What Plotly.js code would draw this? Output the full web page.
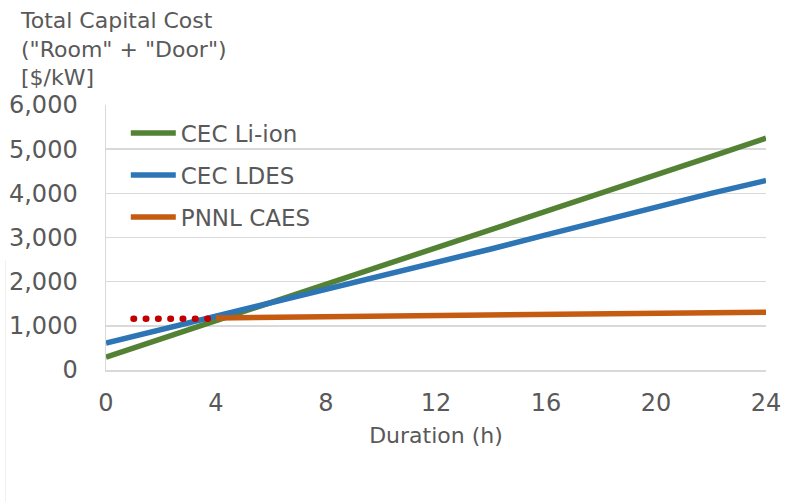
<!DOCTYPE html>
<html>
<head>
<meta charset="utf-8">
<script src="https://cdn.plot.ly/plotly-3.0.1.min.js"></script>
<style>
html,body{margin:0;padding:0;background:#fff;}
#chart{width:785px;height:502px;}
.scatterlayer .trace:last-child .js-line{stroke-linecap:round !important;}
</style>
</head>
<body>
<div id="chart"></div>
<script>
// Duration in hours
var durations = [0, 2, 4, 6, 8, 10, 12, 14, 16, 18, 20, 22, 24];
var liIon = [290, 700, 1120, 1530, 1940, 2350, 2770, 3180, 3590, 4000, 4410, 4830, 5250];
var ldes = [610, 910, 1210, 1530, 1840, 2140, 2440, 2740, 3060, 3380, 3680, 4000, 4290];
var caesDurations = [4, 8, 12, 16, 20, 24];
var caes = [1180, 1205, 1230, 1260, 1285, 1310];
var caesExtDurations = [1, 4];
var caesExt = [1160, 1160];
var xTicks = [0, 4, 8, 12, 16, 20, 24];
var yTicks = [0, 1000, 2000, 3000, 4000, 5000, 6000];

var gray = '#595959';
var font = 'DejaVu Sans, sans-serif';

var traces = [
  {x: durations, y: liIon, mode: 'lines', name: 'CEC Li-ion', legendgroup: 'a',
   line: {color: '#548235', width: 5.5}},
  {x: durations, y: ldes, mode: 'lines', name: 'CEC LDES', legendgroup: 'b',
   line: {color: '#2E75B6', width: 5.5}},
  {x: caesDurations, y: caes, mode: 'lines', name: 'PNNL CAES', legendgroup: 'c',
   line: {color: '#C55A11', width: 5.5}},
  {x: caesExtDurations, y: caesExt, mode: 'lines', showlegend: false,
   line: {color: '#C00000', width: 6.5, dash: '0.5px,11.8px'}, hoverinfo: 'skip'}
];

var layout = {
  width: 785, height: 502,
  margin: {l: 105.5, r: 19, t: 105, b: 132, pad: 0},
  paper_bgcolor: '#fff', plot_bgcolor: '#fff',
  font: {family: font, color: gray, size: 22},
  title: {
    text: 'Total Capital Cost<br>("Room" + "Door")<br>[$/kW]',
    font: {family: font, size: 22, color: gray},
    x: 21/785, xanchor: 'left', xref: 'container',
    y: 1 - 28/502, yanchor: 'top', yref: 'container'
  },
  xaxis: {
    range: [0, 24], tickvals: xTicks, ticktext: xTicks.map(String),
    showgrid: false, zeroline: false, showline: true, linecolor: '#d9d9d9', linewidth: 1.5,
    ticks: '', tickfont: {size: 24, color: gray, family: font}, ticklabelstandoff: 11,
    title: {text: 'Duration (h)', font: {size: 22, color: gray, family: font}, standoff: 11}
  },
  yaxis: {
    range: [0, 6000], tickvals: yTicks, tickformat: ',',
    showgrid: true, gridcolor: '#d9d9d9', gridwidth: 1.5,
    zeroline: false, showline: true, linecolor: '#d9d9d9', linewidth: 1.5,
    ticks: '', tickfont: {size: 24, color: gray, family: font}, ticklabelstandoff: 22
  },
  legend: {
    x: 0.03, xanchor: 'left', y: 0.975, yanchor: 'top',
    traceorder: 'grouped', bgcolor: 'rgba(255,255,255,0)',
    font: {size: 23, color: gray, family: font},
    itemwidth: 45, tracegroupgap: 9
  },
  shapes: [
    {type: 'line', xref: 'paper', yref: 'paper',
     x0: -0.1522, x1: -0.1522, y0: 0.415, y1: -0.5,
     line: {color: '#f0f0f0', width: 1}}
  ],
  showlegend: true
};

Plotly.newPlot('chart', traces, layout, {displayModeBar: false, staticPlot: true});
</script>
</body>
</html>
